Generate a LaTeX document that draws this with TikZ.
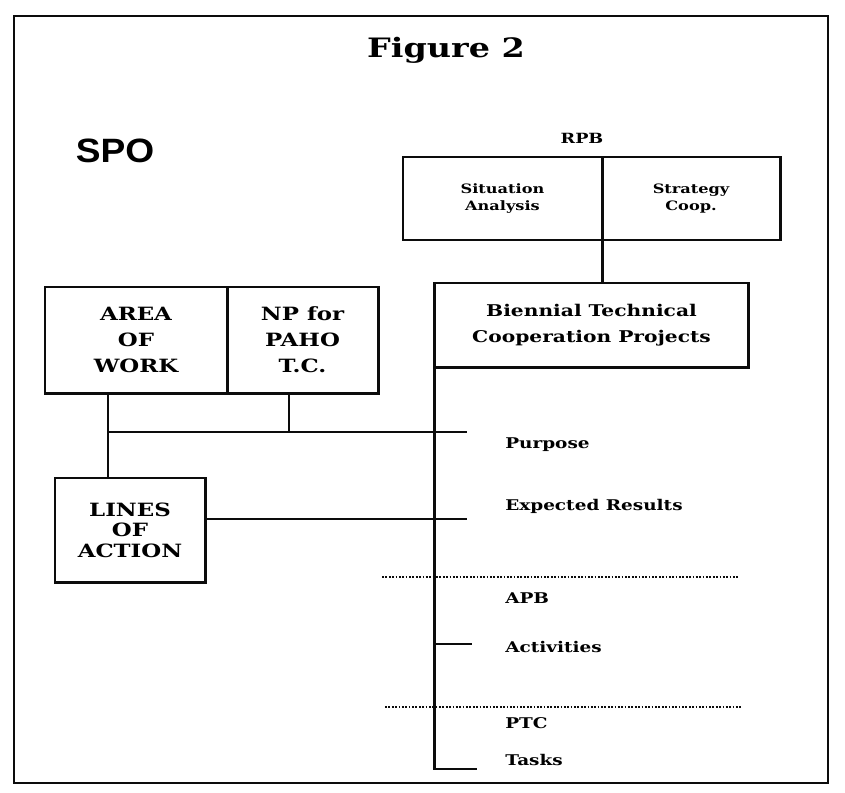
\documentclass[tikz,border=0pt]{standalone}
\usepackage{fontspec}
\setmainfont{DejaVu Serif}[FakeStretch=1.25]
\newfontfamily\spofont{Liberation Sans}[FakeStretch=1.1]
\usetikzlibrary{positioning,calc}
\definecolor{scanink}{RGB}{12,12,12}
\tikzset{
    outerframe/.style={draw=scanink, line width=2pt},
    block/.style={rectangle, draw=scanink, line width=2.1pt, align=center, inner sep=0pt, outer sep=0pt, font=\bfseries\fontsize{13}{18.5}\selectfont},
    smallblock/.style={block, font=\bfseries\fontsize{9.2}{11.5}\selectfont},
    link/.style={draw=scanink, line width=2.1pt},
    tierline/.style={draw=scanink, line width=1.3pt, dash pattern=on 1.3pt off 1.1pt},
    tierlabel/.style={anchor=base west, inner sep=0pt, font=\bfseries\fontsize{10.5}{13}\selectfont},
}

\begin{document}
\begin{tikzpicture}[x=0.025cm, y=-0.025cm]
    \useasboundingbox (0,0) rectangle (845,792);
    % Outer frame
    \draw[outerframe] (14,16) rectangle (828,783);

    % Titles
    \node[anchor=base, font=\bfseries\fontsize{19}{23}\selectfont] (title) at (446,57) {Figure 2};
    \node[anchor=base, font=\spofont\bfseries\fontsize{24}{28}\selectfont] (spo) at (115,162) {SPO};
    \node[anchor=base, font=\bfseries\fontsize{10}{12}\selectfont] (rpb) at (582,143) {RPB};

    % RPB boxes
    \node[smallblock, minimum width=4.975cm, minimum height=2.075cm] (situation) at (502.5,198.5) {Situation\\Analysis};
    \node[smallblock, minimum width=4.45cm, minimum height=2.075cm, right=0pt of situation] (strategy) {Strategy\\Coop.};

    % Biennial projects
    \node[block, font=\bfseries\fontsize{11.5}{19}\selectfont, minimum width=7.825cm, minimum height=2.1cm] (btcp) at (591.5,325) {Biennial Technical\\Cooperation Projects};
    \draw[link] (situation.south east) -- (situation.south east |- btcp.north);

    % SPO boxes
    \node[block, minimum width=4.55cm, minimum height=2.65cm] (area) at (136,340) {AREA\\OF\\WORK};
    \node[block, minimum width=3.775cm, minimum height=2.65cm, right=0pt of area] (np) {NP for\\PAHO\\T.C.};
    \node[block, font=\bfseries\fontsize{13}{14.5}\selectfont, minimum width=3.75cm, minimum height=2.6cm] (lines) at (130,530) {LINES\\OF\\ACTION};

    % Connectors
    \coordinate (joint) at (108,432);
    \coordinate (npdrop) at (289,432);
    \coordinate (purposeend) at (467,432);
    \coordinate (resultsend) at (467,519);
    \draw[link] (joint |- area.south) -- (joint) -- (purposeend);
    \draw[link] (npdrop |- np.south) -- (npdrop);
    \draw[link] (joint) -- (joint |- lines.north);
    \draw[link] (resultsend -| lines.east) -- (resultsend);

    % Spine
    \coordinate (spineend) at (477,769);
    \coordinate (activityend) at (472,644);
    \draw[link] (btcp.south west) -- (btcp.south west |- spineend) -- (spineend);
    \draw[link] (activityend -| btcp.south west) -- (activityend);

    % Tier lines
    \coordinate (apbleft) at (382,577);
    \coordinate (apbright) at (738,577);
    \coordinate (ptcleft) at (385,707);
    \coordinate (ptcright) at (742,707);
    \draw[tierline] (apbleft) -- (apbright);
    \draw[tierline] (ptcleft) -- (ptcright);

    % Labels
    \foreach \name/\y/\lbl in {purpose/448/Purpose, results/510/Expected Results, apb/603/APB, activities/652/Activities, ptc/728/PTC, tasks/765/Tasks}
        \node[tierlabel] (\name) at (505,\y) {\lbl};
\end{tikzpicture}
\end{document}
